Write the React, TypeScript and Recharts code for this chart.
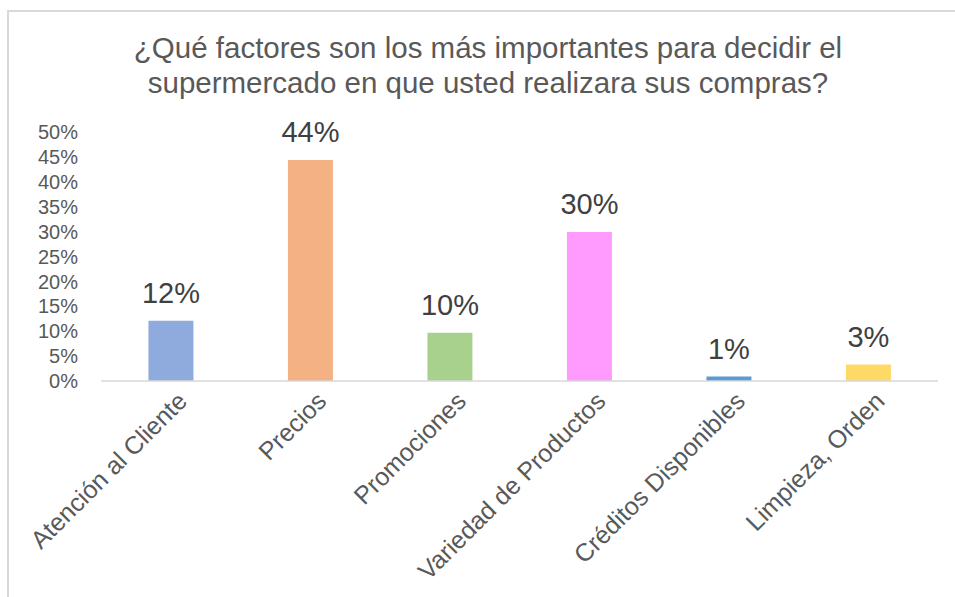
import { Bar, BarChart, Cell, LabelList, XAxis, YAxis } from "recharts";

const categories = [
  "Atención al Cliente",
  "Precios",
  "Promociones",
  "Variedad de Productos",
  "Créditos Disponibles",
  "Limpieza, Orden",
];
const values = [12.1, 44.4, 9.7, 29.9, 0.9, 3.3];
const barColors = ["#8FAADC", "#F4B183", "#A9D18E", "#FF9BFF", "#5B9BD5", "#FFD966"];
const yTicks = [0, 5, 10, 15, 20, 25, 30, 35, 40, 45, 50];
const titleLines = [
  "¿Qué factores son los más importantes para decidir el",
  "supermercado en que usted realizara sus compras?",
];

const data = categories.map((name, i) => ({ name, value: values[i] }));

const FONT = "'Liberation Sans', Arial, sans-serif";

function CategoryTick(props: any) {
  const { x, y, payload } = props;
  return (
    <text
      x={x + 8}
      y={y}
      transform={`rotate(-45, ${x + 8}, ${y})`}
      textAnchor="end"
      dy="0.55em"
      fontSize={25}
      fill="#595959"
      fontFamily={FONT}
    >
      {payload.value}
    </text>
  );
}

export default function App() {
  return (
    <div
      style={{
        position: "fixed",
        left: 0,
        top: 0,
        width: 955,
        height: 597,
        overflow: "hidden",
        background: "#fff",
        fontFamily: FONT,
      }}
    >
      <div
        style={{
          position: "absolute",
          left: 7,
          top: 10,
          width: 1000,
          height: 700,
          borderTop: "2px solid #D9D9D9",
          borderLeft: "2px solid #D9D9D9",
        }}
      />
      <svg width={955} height={110} style={{ position: "absolute", left: 0, top: 0 }}>
        {titleLines.map((line, i) => (
          <text
            key={i}
            x={488}
            y={58 + i * 35}
            textAnchor="middle"
            fontSize={29.5}
            fill="#595959"
            fontFamily={FONT}
          >
            {line}
          </text>
        ))}
      </svg>
      <div style={{ position: "absolute", left: 0, top: 0 }}>
        <BarChart
          width={955}
          height={597}
          data={data}
          barCategoryGap="34%"
          margin={{ top: 132, right: 17, left: 31, bottom: 15 }}
        >
          <XAxis
            dataKey="name"
            interval={0}
            height={201}
            tickLine={false}
            tickSize={0}
            tickMargin={12}
            axisLine={{ stroke: "#D9D9D9", strokeWidth: 1.5 }}
            tick={<CategoryTick />}
          />
          <YAxis
            width={70}
            domain={[0, 50]}
            ticks={yTicks}
            interval={0}
            axisLine={false}
            tickLine={false}
            tickSize={0}
            tickMargin={23}
            tickFormatter={(v: number) => `${v}%`}
            tick={{ fontSize: 20, fill: "#595959", fontFamily: FONT }}
          />
          <Bar dataKey="value" isAnimationActive={false}>
            {data.map((d, i) => (
              <Cell key={d.name} fill={barColors[i]} />
            ))}
            <LabelList
              dataKey="value"
              position="top"
              offset={18}
              formatter={(v: any) => `${Math.round(Number(v))}%`}
              style={{ fontSize: 29, fill: "#404040", fontFamily: FONT }}
            />
          </Bar>
        </BarChart>
      </div>
    </div>
  );
}
